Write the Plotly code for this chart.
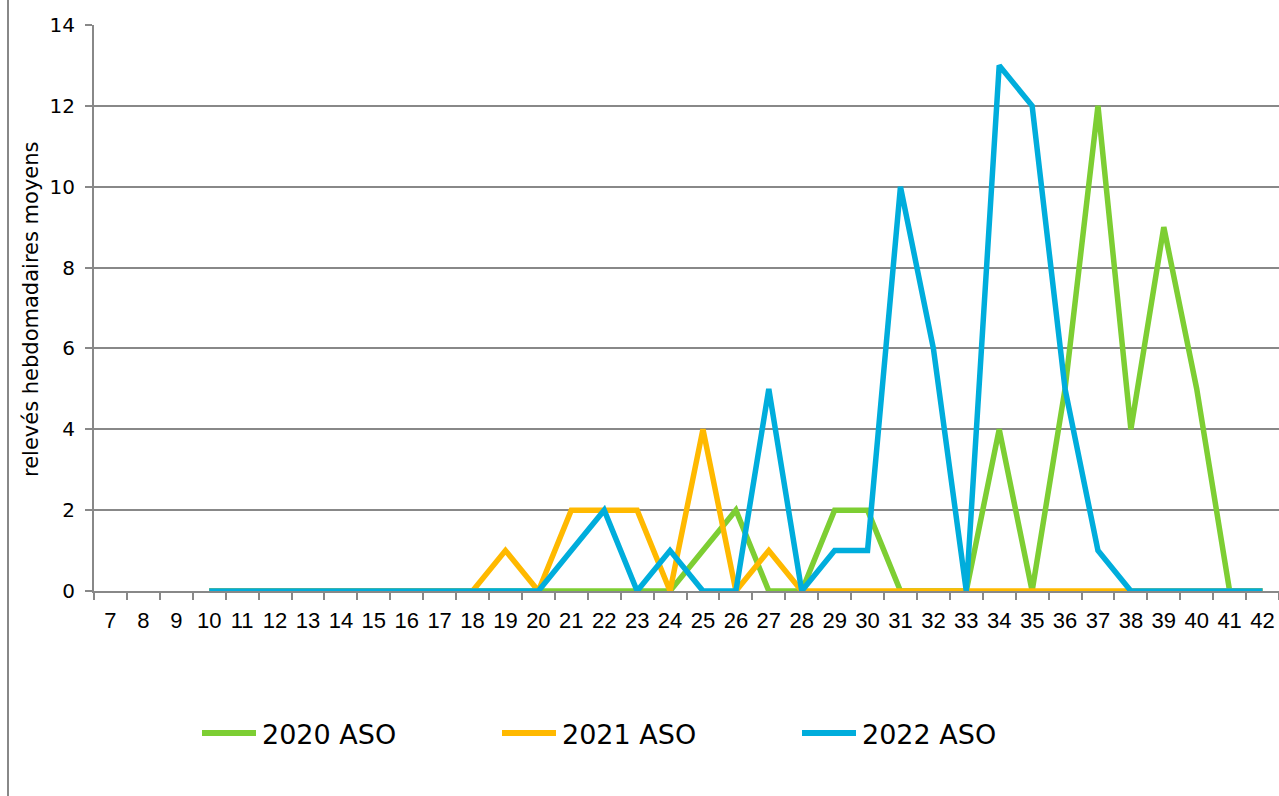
import plotly.graph_objects as go

# Weekly averages per campaign (weeks 10 to 42)
weeks_axis = [str(w) for w in range(7, 43)]
weeks = [str(w) for w in range(10, 43)]

aso_2020 = [0, 0, 0, 0, 0, 0, 0, 0, 0, 0, 0, 0, 0, 0, 0, 1, 2, 0, 0, 2, 2, 0, 0, 0, 4, 0, 5, 12, 4, 9, 5, 0, 0]
aso_2021 = [0, 0, 0, 0, 0, 0, 0, 0, 0, 1, 0, 2, 2, 2, 0, 4, 0, 1, 0, 0, 0, 0, 0, 0, 0, 0, 0, 0, 0, 0, 0, 0, 0]
aso_2022 = [0, 0, 0, 0, 0, 0, 0, 0, 0, 0, 0, 1, 2, 0, 1, 0, 0, 5, 0, 1, 1, 10, 6, 0, 13, 12, 5, 1, 0, 0, 0, 0, 0]

series_names = ["2020 ASO", "2021 ASO", "2022 ASO"]
series_values = [aso_2020, aso_2021, aso_2022]
series_colors = ["#7DCE33", "#FFB900", "#00ADDC"]

W, H = 1279, 796
L, R, T, B = 94, 0, 25, 205
plot_w = W - L - R
plot_h = H - T - B


def px_x(p):
    return (p - L) / plot_w


def px_y(p):
    return (H - B - p) / plot_h


GRID = "#888888"
fig = go.Figure()

for name, vals, col in zip(series_names, series_values, series_colors):
    fig.add_trace(go.Scatter(
        x=weeks, y=vals, name=name, mode="lines",
        line=dict(color=col, width=5.5, shape="linear"),
        cliponaxis=False, showlegend=False,
    ))

fig.update_layout(
    width=W, height=H,
    margin=dict(l=L, r=R, t=T, b=B, pad=0),
    paper_bgcolor="white", plot_bgcolor="white",
    xaxis=dict(
        type="category", categoryorder="array", categoryarray=weeks_axis,
        range=[-0.5, len(weeks_axis) - 0.5],
        showgrid=False, zeroline=False,
        showline=True, linecolor=GRID, linewidth=2,
        ticks="outside", tickson="boundaries", ticklen=7, tickcolor=GRID, tickwidth=2,
        tickangle=0,
        tickfont=dict(family="Liberation Sans, Arial", size=22, color="#000"),
        ticklabelstandoff=9,
    ),
    yaxis=dict(
        range=[0, 14], dtick=2, tick0=0,
        showgrid=True, gridcolor=GRID, gridwidth=2,
        zeroline=False,
        showline=True, linecolor=GRID, linewidth=2,
        ticks="outside", ticklen=7, tickcolor=GRID, tickwidth=2,
        tickfont=dict(family="DejaVu Sans, Verdana", size=20, color="#000"),
        ticklabelstandoff=6,
    ),
    font=dict(family="DejaVu Sans, Verdana", color="#000"),
)

# Axis title
fig.add_annotation(
    text="relevés hebdomadaires moyens", textangle=-90,
    xref="paper", yref="paper", x=px_x(31), y=px_y(309),
    xanchor="center", yanchor="middle", showarrow=False,
    font=dict(family="DejaVu Sans, Verdana", size=21, color="#000"),
)

# Legend drawn along the bottom
leg_y = 733
leg_starts = [200, 500, 800]
for name, col, x0 in zip(series_names, series_colors, leg_starts):
    fig.add_shape(
        type="line", xref="paper", yref="paper",
        x0=px_x(x0 + 2), x1=px_x(x0 + 56), y0=px_y(leg_y), y1=px_y(leg_y),
        line=dict(color=col, width=6),
    )
    fig.add_annotation(
        text=name, xref="paper", yref="paper",
        x=px_x(x0 + 60), y=px_y(leg_y + 1), xanchor="left", yanchor="middle",
        showarrow=False,
        font=dict(family="DejaVu Sans, Verdana", size=27, color="#000"),
    )

# Left frame line
fig.add_shape(
    type="line", xref="paper", yref="paper",
    x0=px_x(8), x1=px_x(8), y0=px_y(0), y1=px_y(H),
    line=dict(color=GRID, width=2),
)

fig.write_html("out.html")
